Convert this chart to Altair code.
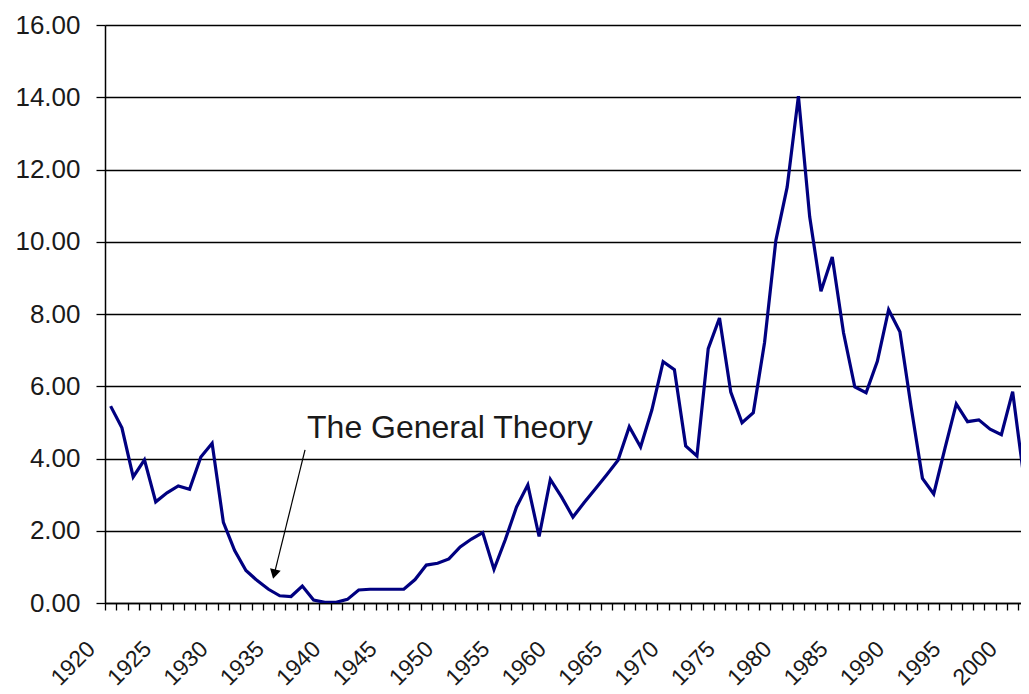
import altair as alt
import pandas as pd

# ---- data ----
years = list(range(1920, 2003))
rates = [
    5.45, 4.85, 3.49, 3.96, 2.80, 3.05, 3.24, 3.15, 4.04, 4.42,   # 1920s
    2.23, 1.45, 0.90, 0.62, 0.38, 0.20, 0.18, 0.47, 0.08, 0.02,   # 1930s
    0.02, 0.10, 0.36, 0.38, 0.38, 0.38, 0.38, 0.65, 1.05, 1.10,   # 1940s
    1.22, 1.55, 1.77, 1.95, 0.93, 1.75, 2.66, 3.27, 1.84, 3.42,   # 1950s
    2.93, 2.38, 2.78, 3.16, 3.55, 3.95, 4.88, 4.32, 5.34, 6.68,   # 1960s
    6.46, 4.35, 4.07, 7.04, 7.89, 5.84, 4.99, 5.27, 7.22, 10.04,  # 1970s
    11.51, 14.03, 10.69, 8.63, 9.58, 7.48, 5.98, 5.82, 6.69, 8.12,  # 1980s
    7.51, 5.42, 3.45, 3.02, 4.29, 5.51, 5.02, 5.07, 4.81, 4.66,   # 1990s
    5.85, 3.45, 1.62,                                             # 2000s
]
y_tick_values = [0, 2, 4, 6, 8, 10, 12, 14, 16]

annot_label = ["The General Theory"]
annot_x = [1937.42]
annot_y = [4.57]
arrow_x_start = [1937.24]
arrow_y_start = [4.24]
arrow_x_end = [1934.51]
arrow_y_end = [0.80]

# ---- tables ----
df = pd.DataFrame({"year": years, "rate": rates})
df_text = pd.DataFrame({"year": annot_x, "rate": annot_y, "label": annot_label})
df_arrow = pd.DataFrame({"year": arrow_x_start, "rate": arrow_y_start,
                         "year2": arrow_x_end, "rate2": arrow_y_end})
df_head = pd.DataFrame({"year": arrow_x_end, "rate": arrow_y_end})

x_domain = [1919.5, 2001.45]
tick_values = [y - 0.5 for y in years if y - 0.5 <= x_domain[1]]

xscale = alt.Scale(domain=x_domain, nice=False, zero=False)
yscale = alt.Scale(domain=[0, 16], nice=False, zero=True)

FONT = "Liberation Sans"

x_axis = alt.Axis(
    title=None,
    values=tick_values,
    labelExpr="(round(datum.value + 0.5) % 5 == 0) ? ('' + round(datum.value + 0.5)) : ''",
    labelAngle=-45,
    labelAlign="right",
    labelBaseline="middle",
    labelPadding=35,
    labelOffset=-14,
    labelFont=FONT,
    labelFontSize=23,
    labelColor="#1a1a1a",
    labelOverlap=False,
    labelFlush=False,
    tickSize=7,
    tickColor="#000000",
    tickWidth=1.3,
    domainColor="#000000",
    domainWidth=1.5,
    grid=False,
)

y_axis = alt.Axis(
    title=None,
    values=y_tick_values,
    format=".2f",
    labelFont=FONT,
    labelFontSize=26,
    labelColor="#1a1a1a",
    labelPadding=16,
    tickSize=9,
    tickColor="#000000",
    tickWidth=1.3,
    domainColor="#000000",
    domainWidth=1.5,
    grid=True,
    gridColor="#000000",
    gridWidth=1.3,
    gridOpacity=1,
)

X = alt.X("year:Q", scale=xscale, axis=x_axis)
Y = alt.Y("rate:Q", scale=yscale, axis=y_axis)

line = alt.Chart(df).mark_line(color="#000080", strokeWidth=3.2, clip=True).encode(x=X, y=Y)

text = alt.Chart(df_text).mark_text(
    align="left", baseline="alphabetic", font=FONT, fontSize=32, color="#1a1a1a"
).encode(x=X, y=Y, text="label:N")

arrow = alt.Chart(df_arrow).mark_rule(color="#000000", strokeWidth=1.2).encode(
    x=X, y=Y, x2="year2:Q", y2="rate2:Q"
)

head = alt.Chart(df_head).mark_point(
    shape="triangle-down", filled=True, size=120, angle=14, color="#000000", opacity=1
).encode(x=X, y=Y)

chart = alt.layer(line, text, arrow, head).properties(
    width=924,
    height=578,
    autosize=alt.AutoSizeParams(type="none"),
    padding={"left": 97, "top": 17, "right": -8, "bottom": 91},
    background="#ffffff",
).configure_view(strokeWidth=0)

chart.save("out.html", embed_options={"renderer": "svg", "actions": False})
